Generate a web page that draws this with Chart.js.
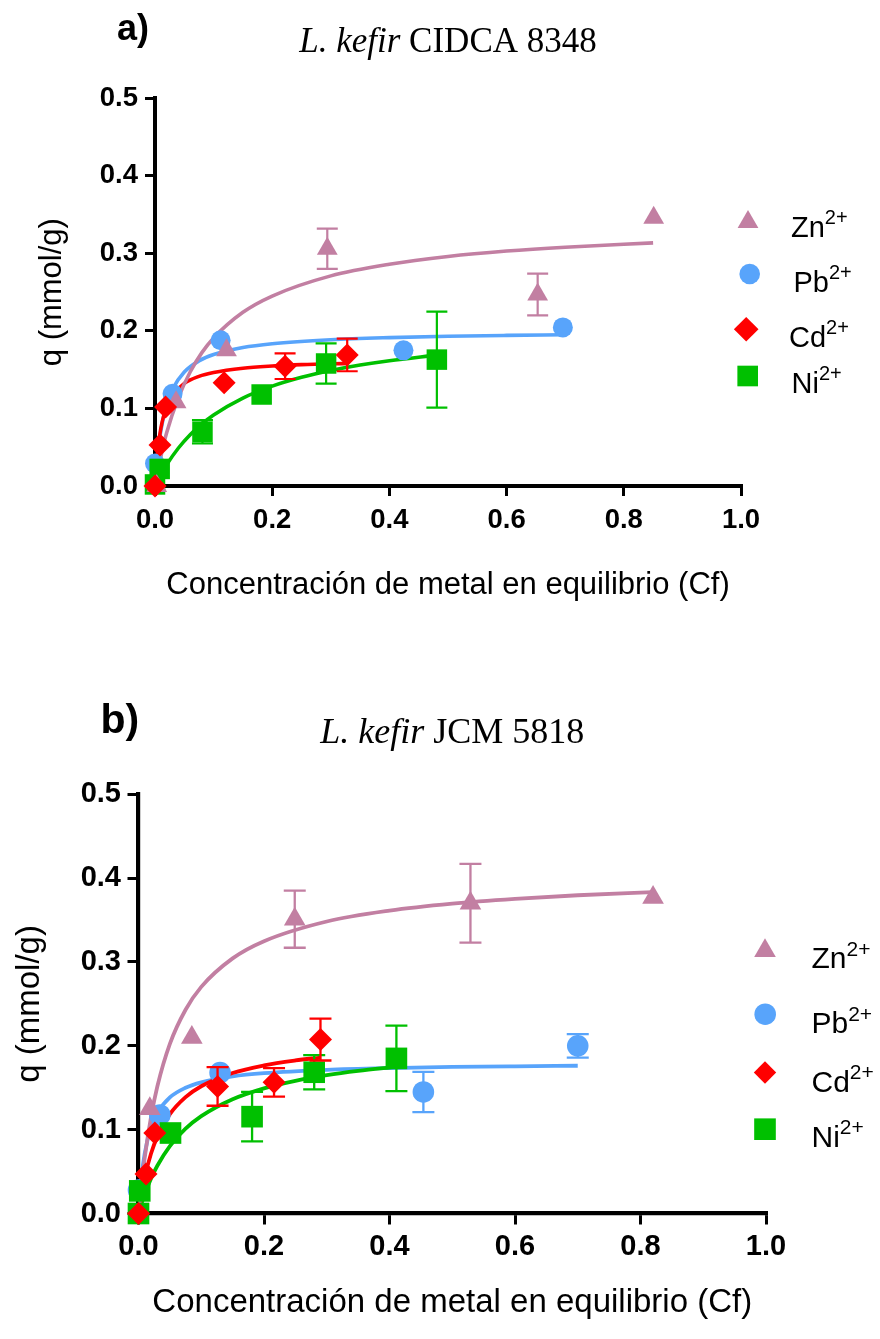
<!DOCTYPE html>
<html lang="es">
<head>
<meta charset="utf-8">
<title>Isotermas de adsorción de metales – L. kefir</title>
<script src="https://cdn.jsdelivr.net/npm/chart.js@4.4.1/dist/chart.umd.min.js"></script>
<style>
  html, body { margin: 0; padding: 0; background: #ffffff; }
  #wrap { position: relative; width: 880px; height: 1339px; }
  #wrap canvas { position: absolute; left: 0; display: block; }
  #chartA { top: 0; }
  #chartB { top: 650px; }
</style>
</head>
<body>
<div id="wrap">
  <canvas id="chartA" width="880" height="650"></canvas>
  <canvas id="chartB" width="880" height="689"></canvas>
</div>
<script>
// ---------------------------------------------------------------
// Axis labels and tick labels (shared by both panels)
// ---------------------------------------------------------------
const cfTickLabels = ['0.0', '0.2', '0.4', '0.6', '0.8', '1.0'];
const qTickLabels  = ['0.0', '0.1', '0.2', '0.3', '0.4', '0.5'];
const cfAxisTitle = 'Concentración de metal en equilibrio (Cf)';
const qAxisTitle  = 'q (mmol/g)';

const ionSymbols = ['Zn', 'Pb', 'Cd', 'Ni'];
const ionCharge  = '2+';

// ---------------------------------------------------------------
// Panel a) L. kefir CIDCA 8348 — measured uptake (Cf, q, SD)
// ---------------------------------------------------------------
const aZnCf = [0.003, 0.036, 0.122, 0.294, 0.653, 0.851];
const aZnQ  = [0.000, 0.108, 0.175, 0.306, 0.247, 0.346];
const aZnSd = [0, 0, 0, 0.026, 0.027, 0];

const aPbCf = [0.000, 0.030, 0.112, 0.424, 0.696];
const aPbQ  = [0.029, 0.119, 0.188, 0.175, 0.2045];
const aPbSd = [0, 0, 0, 0, 0];

const aCdCf = [0.000, 0.0085, 0.018, 0.118, 0.222, 0.328];
const aCdQ  = [0.000, 0.053, 0.102, 0.133, 0.1545, 0.169];
const aCdSd = [0, 0, 0, 0, 0.0165, 0.021];

const aNiCf = [0.000, 0.008, 0.081, 0.182, 0.292, 0.481];
const aNiQ  = [0.002, 0.022, 0.070, 0.118, 0.158, 0.163];
const aNiSd = [0, 0, 0.015, 0, 0.026, 0.062];

// Panel a) fitted isotherms
const aZnFitCf = [0, 0.01, 0.02, 0.04, 0.06, 0.08, 0.1, 0.15, 0.2, 0.3, 0.4, 0.5, 0.6, 0.7, 0.85];
const aZnFitQ  = [0, 0.038, 0.069, 0.114, 0.147, 0.172, 0.191, 0.224, 0.245, 0.271, 0.286, 0.296, 0.303, 0.308, 0.3135];
const aPbFitCf = [0, 0.005, 0.01, 0.02, 0.03, 0.05, 0.075, 0.1, 0.15, 0.2, 0.3, 0.4, 0.5, 0.6, 0.696];
const aPbFitQ  = [0, 0.0435, 0.0714, 0.1053, 0.125, 0.147, 0.1613, 0.1695, 0.1786, 0.1835, 0.1887, 0.1914, 0.1931, 0.1942, 0.195];
const aCdFitCf = [0, 0.003, 0.006, 0.01, 0.015, 0.02, 0.03, 0.05, 0.075, 0.1, 0.15, 0.2, 0.25, 0.33];
const aCdFitQ  = [0, 0.0328, 0.0547, 0.0745, 0.0911, 0.1025, 0.1171, 0.1323, 0.1414, 0.1464, 0.1519, 0.1547, 0.1565, 0.1582];
const aNiFitCf = [0, 0.01, 0.02, 0.04, 0.06, 0.08, 0.1, 0.15, 0.2, 0.25, 0.3, 0.35, 0.4, 0.48];
const aNiFitQ  = [0, 0.0148, 0.0276, 0.049, 0.0661, 0.08, 0.0916, 0.1134, 0.1288, 0.1402, 0.149, 0.156, 0.1616, 0.1688];

// ---------------------------------------------------------------
// Panel b) L. kefir JCM 5818 — measured uptake (Cf, q, SD)
// ---------------------------------------------------------------
const bZnCf = [0.018, 0.085, 0.249, 0.529, 0.820];
const bZnQ  = [0.125, 0.210, 0.351, 0.370, 0.377];
const bZnSd = [0, 0, 0.034, 0.047, 0];

const bPbCf = [0.000, 0.034, 0.130, 0.454, 0.700];
const bPbQ  = [0.028, 0.1175, 0.168, 0.145, 0.200];
const bPbSd = [0, 0, 0, 0.024, 0.014];

const bCdCf = [0.000, 0.012, 0.026, 0.126, 0.216, 0.290];
const bCdQ  = [0.000, 0.047, 0.096, 0.1515, 0.1565, 0.2075];
const bCdSd = [0, 0, 0, 0.023, 0.017, 0.025];

const bNiCf = [0.000, 0.002, 0.051, 0.181, 0.280, 0.411];
const bNiQ  = [0.000, 0.027, 0.096, 0.1155, 0.1685, 0.185];
const bNiSd = [0, 0, 0, 0.0295, 0.0205, 0.039];

// Panel b) fitted isotherms
const bZnFitCf = [0, 0.005, 0.01, 0.02, 0.03, 0.05, 0.075, 0.1, 0.15, 0.2, 0.3, 0.4, 0.5, 0.6, 0.7, 0.82];
const bZnFitQ  = [0, 0.0366, 0.0672, 0.1153, 0.1515, 0.2023, 0.243, 0.2703, 0.3043, 0.3248, 0.3483, 0.3613, 0.3696, 0.3753, 0.3796, 0.3833];
const bPbFitCf = [0, 0.005, 0.01, 0.02, 0.03, 0.05, 0.075, 0.1, 0.15, 0.2, 0.3, 0.4, 0.5, 0.6, 0.7];
const bPbFitQ  = [0, 0.045, 0.072, 0.1029, 0.12, 0.1385, 0.15, 0.1565, 0.1636, 0.1674, 0.1714, 0.1735, 0.1748, 0.1756, 0.1762];
const bCdFitCf = [0, 0.005, 0.01, 0.02, 0.03, 0.05, 0.075, 0.1, 0.15, 0.2, 0.25, 0.29];
const bCdFitQ  = [0, 0.024, 0.0431, 0.0715, 0.0917, 0.1185, 0.1388, 0.1518, 0.1675, 0.1766, 0.1825, 0.186];
const bNiFitCf = [0, 0.005, 0.01, 0.02, 0.03, 0.05, 0.075, 0.1, 0.15, 0.2, 0.25, 0.3, 0.35, 0.41];
const bNiFitQ  = [0, 0.0123, 0.0232, 0.0418, 0.057, 0.0804, 0.1011, 0.1161, 0.1363, 0.1493, 0.1583, 0.165, 0.1701, 0.1749];

// ---------------------------------------------------------------
// Series look
// ---------------------------------------------------------------
const ionStyle = {
  Zn: { color: '#C27FA2', pointStyle: 'triangle' },
  Pb: { color: '#58A4FB', pointStyle: 'circle' },
  Cd: { color: '#FF0000', pointStyle: 'rectRot' },
  Ni: { color: '#00C000', pointStyle: 'rect' }
};
const markerOrder = { Cd: 0, Zn: 1, Ni: 2, Pb: 3 };
const fitOrder    = { Zn: 4, Cd: 5, Ni: 6, Pb: 7 };

const SANS  = '"Liberation Sans", Arial, Helvetica, sans-serif';
const SERIF = '"Liberation Serif", "Times New Roman", serif';

function zip(xs, ys) { return xs.map((x, i) => ({ x: x, y: ys[i] })); }

// Vertical SD bars with caps, painted just before each marker set
const errorBars = {
  id: 'errorBars',
  beforeDatasetDraw(chart, args, opts) {
    const ds = chart.data.datasets[args.index];
    if (!ds.sd) return;
    const xs = chart.scales.x, ys = chart.scales.y, ctx = chart.ctx;
    const half = opts.capWidth / 2;
    ctx.save();
    ctx.strokeStyle = ds.backgroundColor;
    ctx.lineWidth = opts.lineWidth;
    ds.data.forEach((pt, i) => {
      const e = ds.sd[i];
      if (!e) return;
      const px = xs.getPixelForValue(pt.x);
      const top = ys.getPixelForValue(pt.y + e);
      const bot = ys.getPixelForValue(pt.y - e);
      ctx.beginPath();
      ctx.moveTo(px, top); ctx.lineTo(px, bot);
      ctx.moveTo(px - half, top); ctx.lineTo(px + half, top);
      ctx.moveTo(px - half, bot); ctx.lineTo(px + half, bot);
      ctx.stroke();
    });
    ctx.restore();
  }
};

// Legend with superscript charges
const ionLegend = {
  id: 'ionLegend',
  afterDraw(chart, args, opts) {
    const ctx = chart.ctx;
    opts.items.forEach((it, i) => {
      const ion = ionSymbols[i];
      const st = ionStyle[ion];
      ctx.save();
      ctx.fillStyle = st.color;
      Chart.helpers.drawPoint(ctx, { pointStyle: st.pointStyle, radius: it.r, rotation: 0, borderWidth: 0 }, it.mx, it.my);
      ctx.fillStyle = '#000';
      ctx.textAlign = 'left';
      ctx.textBaseline = 'alphabetic';
      ctx.font = opts.size + 'px ' + SANS;
      ctx.fillText(ion, it.tx, it.ty);
      const w = ctx.measureText(ion).width;
      ctx.font = opts.supSize + 'px ' + SANS;
      ctx.fillText(ionCharge, it.tx + w, it.ty - opts.supRise);
      ctx.restore();
    });
  }
};

// Panel letter and strain heading (italic genus/species, roman strain code)
const panelHeading = {
  id: 'panelHeading',
  afterDraw(chart, args, opts) {
    const ctx = chart.ctx;
    ctx.save();
    ctx.fillStyle = '#000';
    ctx.textAlign = 'left';
    ctx.textBaseline = 'alphabetic';
    ctx.font = 'bold ' + opts.letterSize + 'px ' + SANS;
    ctx.fillText(opts.letter, opts.letterX, opts.letterY);
    const runs = opts.runs.map(r => ({
      text: r.text,
      font: (r.italic ? 'italic ' : '') + opts.titleSize + 'px ' + SERIF
    }));
    let total = 0;
    runs.forEach(r => { ctx.font = r.font; r.w = ctx.measureText(r.text).width; total += r.w; });
    let x = (chart.chartArea.left + chart.chartArea.right) / 2 - total / 2;
    runs.forEach(r => { ctx.font = r.font; ctx.fillText(r.text, x, opts.titleY); x += r.w; });
    ctx.restore();
  }
};

function panelChart(canvasId, series, look) {
  const datasets = [];
  ionSymbols.forEach(ion => {
    const s = series[ion];
    const st = ionStyle[ion];
    datasets.push({
      label: ion + ' (ajuste)',
      data: zip(s.fitCf, s.fitQ),
      showLine: true,
      pointRadius: 0,
      pointHoverRadius: 0,
      borderColor: st.color,
      backgroundColor: st.color,
      borderWidth: look.fitWidth,
      cubicInterpolationMode: 'monotone',
      fill: false,
      order: fitOrder[ion]
    });
    datasets.push({
      label: ion,
      data: zip(s.cf, s.q),
      sd: s.sd,
      showLine: false,
      pointStyle: st.pointStyle,
      pointRadius: look.radius[ion],
      pointHoverRadius: look.radius[ion],
      backgroundColor: st.color,
      borderColor: st.color,
      borderWidth: 0,
      clip: false,
      order: markerOrder[ion]
    });
  });

  return new Chart(document.getElementById(canvasId), {
    type: 'scatter',
    data: { datasets: datasets },
    plugins: [errorBars, ionLegend, panelHeading],
    options: {
      responsive: false,
      animation: false,
      events: [],
      layout: { padding: look.padding },
      plugins: {
        legend: { display: false },
        tooltip: { enabled: false },
        errorBars: { lineWidth: look.barWidth, capWidth: look.capWidth },
        ionLegend: look.legend,
        panelHeading: look.heading
      },
      scales: {
        x: {
          type: 'linear', min: 0, max: 1,
          ticks: {
            stepSize: 0.2, color: '#000', padding: look.xTickPad,
            maxRotation: 0, autoSkip: false,
            font: { family: SANS, size: look.tickSize, weight: 'bold' },
            callback: (v, i) => cfTickLabels[i]
          },
          grid: { drawOnChartArea: false, drawTicks: true, tickLength: look.tickLen, lineWidth: look.tickWidth, color: '#000' },
          border: { display: true, color: '#000', width: look.axisWidth },
          title: {
            display: true, text: cfAxisTitle, color: '#000',
            font: { family: SANS, size: look.titleSize },
            padding: { top: 0, bottom: look.xTitlePad }
          },
          afterFit: s => { s.height = look.xAxisHeight; }
        },
        y: {
          type: 'linear', min: 0, max: 0.5,
          ticks: {
            stepSize: 0.1, color: '#000', padding: look.yTickPad,
            font: { family: SANS, size: look.tickSize, weight: 'bold' },
            callback: (v, i) => qTickLabels[i]
          },
          grid: { drawOnChartArea: false, drawTicks: true, tickLength: look.tickLen, lineWidth: look.tickWidth, color: '#000' },
          border: { display: true, color: '#000', width: look.axisWidth },
          title: {
            display: true, text: qAxisTitle, color: '#000',
            font: { family: SANS, size: look.titleSize },
            padding: { top: look.yTitlePad, bottom: 0 }
          },
          afterFit: s => { s.width = look.yAxisWidth; }
        }
      }
    }
  });
}

// ---------------------------------------------------------------
// Panel a)
// ---------------------------------------------------------------
panelChart('chartA', {
  Zn: { cf: aZnCf, q: aZnQ, sd: aZnSd, fitCf: aZnFitCf, fitQ: aZnFitQ },
  Pb: { cf: aPbCf, q: aPbQ, sd: aPbSd, fitCf: aPbFitCf, fitQ: aPbFitQ },
  Cd: { cf: aCdCf, q: aCdQ, sd: aCdSd, fitCf: aCdFitCf, fitQ: aCdFitQ },
  Ni: { cf: aNiCf, q: aNiQ, sd: aNiSd, fitCf: aNiFitCf, fitQ: aNiFitQ }
}, {
  padding: { left: 0, right: 139, top: 98.3, bottom: 20 },
  yAxisWidth: 155, xAxisHeight: 144,
  tickSize: 27.5, tickLen: 10, tickWidth: 3, axisWidth: 4,
  xTickPad: 7.5, yTickPad: 7,
  titleSize: 31, xTitlePad: 26.4, yTitlePad: 33.4,
  fitWidth: 3.6, barWidth: 2.2, capWidth: 21,
  radius: { Zn: 12, Pb: 10, Cd: 11.5, Ni: 14.5 },
  legend: {
    size: 29, supSize: 20, supRise: 13,
    items: [
      { r: 12,   mx: 748,   my: 222,   tx: 791,   ty: 237.3 },
      { r: 10.3, mx: 749.7, my: 274,   tx: 793.5, ty: 291.7 },
      { r: 12.3, mx: 746.2, my: 329.2, tx: 789,   ty: 346.7 },
      { r: 14.6, mx: 747.7, my: 376,   tx: 791.5, ty: 393.3 }
    ]
  },
  heading: {
    letter: 'a)', letterSize: 36, letterX: 117, letterY: 39.5,
    titleSize: 35, titleY: 51.7,
    runs: [{ text: 'L. kefir', italic: true }, { text: ' CIDCA 8348', italic: false }]
  }
});

// ---------------------------------------------------------------
// Panel b)
// ---------------------------------------------------------------
panelChart('chartB', {
  Zn: { cf: bZnCf, q: bZnQ, sd: bZnSd, fitCf: bZnFitCf, fitQ: bZnFitQ },
  Pb: { cf: bPbCf, q: bPbQ, sd: bPbSd, fitCf: bPbFitCf, fitQ: bPbFitQ },
  Cd: { cf: bCdCf, q: bCdQ, sd: bCdSd, fitCf: bCdFitCf, fitQ: bCdFitQ },
  Ni: { cf: bNiCf, q: bNiQ, sd: bNiSd, fitCf: bNiFitCf, fitQ: bNiFitQ }
}, {
  padding: { left: 0, right: 114, top: 144.3, bottom: 10 },
  yAxisWidth: 138.5, xAxisHeight: 115.5,
  tickSize: 29, tickLen: 11, tickWidth: 3, axisWidth: 4.2,
  xTickPad: 5.5, yTickPad: 6.5,
  titleSize: 33, xTitlePad: 6.2, yTitlePad: 10.2,
  fitWidth: 3.8, barWidth: 2.3, capWidth: 22,
  radius: { Zn: 12.5, Pb: 10.8, Cd: 11.5, Ni: 15.3 },
  legend: {
    size: 30, supSize: 21, supRise: 12.3,
    items: [
      { r: 12.5, mx: 765,   my: 300.8, tx: 811.5, ty: 318.3 },
      { r: 10.8, mx: 765.2, my: 364.2, tx: 811.5, ty: 383.3 },
      { r: 11.2, mx: 765,   my: 422.5, tx: 811.5, ty: 441.7 },
      { r: 15.3, mx: 765,   my: 479.2, tx: 811.5, ty: 496.7 }
    ]
  },
  heading: {
    letter: 'b)', letterSize: 41, letterX: 100.5, letterY: 83,
    titleSize: 36, titleY: 92.7,
    runs: [{ text: 'L. kefir', italic: true }, { text: ' JCM 5818', italic: false }]
  }
});
</script>
</body>
</html>
